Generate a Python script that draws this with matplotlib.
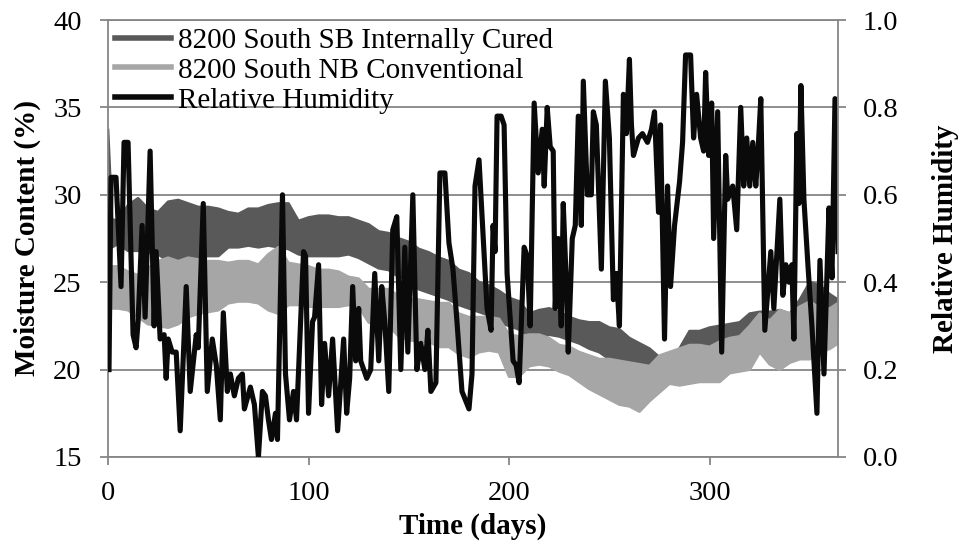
import matplotlib
matplotlib.use("Agg")
import matplotlib.pyplot as plt
from matplotlib.lines import Line2D
import numpy as np

plt.rcParams['font.family'] = ['Liberation Serif', 'DejaVu Serif']

# ---- data ----
mc_days = [0, 2, 5, 10, 15, 20, 25, 30, 35, 40, 45, 50, 55, 60, 65, 70, 75, 80, 85, 90,
           95, 100, 105, 110, 115, 120, 125, 130, 135, 140, 145, 150, 155, 160, 165, 170,
           175, 180, 185, 190, 195, 200, 205, 210, 215, 220, 225, 230, 235, 240, 245, 250,
           255, 260, 265, 270, 275, 280, 285, 290, 295, 300, 305, 310, 315, 320, 325, 330,
           335, 340, 345, 350, 355, 360, 364]

sb_high = [33.7, 28.6, 28.5, 29.4, 29.8, 29.2, 29.0, 29.6, 29.7, 29.5, 29.3, 29.3, 29.2, 29.0,
           28.9, 29.2, 29.2, 29.4, 29.5, 29.5, 28.5, 28.7, 28.8, 28.8, 28.7, 28.7, 28.5, 28.3,
           27.9, 27.8, 27.5, 27.3, 26.9, 26.7, 26.4, 26.2, 25.7, 25.5, 25.0, 24.8, 24.5, 24.1,
           23.9, 23.2, 23.4, 23.5, 23.3, 23.0, 22.8, 22.7, 22.7, 22.4, 22.3, 21.8, 21.5, 21.2,
           20.7, 20.6, 21.2, 22.2, 22.2, 22.4, 22.5, 22.6, 22.7, 23.2, 23.3, 23.3, 23.4, 23.2,
           24.0, 25.0, 24.8, 24.3, 24.0]
sb_low = [27.5, 27.0, 27.2, 26.8, 26.8, 26.7, 26.6, 26.2, 25.9, 26.3, 26.4, 26.5, 26.5, 27.0,
          27.0, 27.1, 27.0, 27.1, 27.0, 26.9, 26.6, 26.5, 26.5, 26.5, 26.5, 26.6, 26.4, 26.1,
          25.8, 25.7, 25.3, 25.2, 24.6, 24.4, 24.2, 24.0, 23.7, 23.5, 23.3, 23.1, 22.7, 22.5,
          22.3, 21.9, 21.8, 22.0, 21.9, 21.7, 21.5, 21.2, 21.0, 20.6, 20.5, 20.3, 19.9, 19.6,
          19.4, 19.3, 19.5, 20.2, 20.3, 20.4, 20.7, 20.8, 20.9, 21.1, 21.4, 21.6, 21.8, 21.9,
          22.0, 22.3, 22.2, 22.2, 22.5]

nb_high = [25.9, 25.9, 25.9, 25.6, 25.4, 25.8, 26.2, 26.4, 26.2, 26.4, 26.3, 26.2, 26.2, 26.1,
           26.2, 26.2, 26.0, 26.6, 27.0, 26.1, 26.0, 25.9, 25.7, 25.7, 25.6, 25.3, 25.2, 24.6,
           24.6, 24.6, 24.2, 24.0, 24.0, 23.9, 23.8, 23.8, 23.2, 23.0, 23.0, 23.0, 22.9, 22.0,
           21.9, 22.0, 22.0, 21.8, 21.4, 21.3, 21.0, 20.8, 20.6, 20.6, 20.5, 20.4, 20.3, 20.2,
           20.8, 21.0, 21.2, 21.4, 21.4, 21.3, 21.6, 21.8, 21.9, 22.5, 23.2, 22.8, 23.4, 23.2,
           23.6, 23.9, 23.5, 23.5, 23.8]
nb_low = [23.5, 23.5, 23.5, 23.4, 23.0, 22.6, 22.5, 22.4, 22.6, 23.0, 23.2, 23.3, 23.4, 23.8,
          23.9, 23.9, 23.8, 23.4, 23.2, 23.7, 23.7, 23.6, 23.6, 23.6, 23.6, 23.7, 23.6, 22.7,
          22.5, 22.5, 21.9, 21.7, 21.6, 21.6, 21.3, 21.3, 20.9, 20.7, 21.0, 21.1, 21.0, 19.6,
          19.6, 20.2, 20.3, 20.2, 19.9, 19.7, 19.3, 18.9, 18.6, 18.3, 18.0, 17.9, 17.6, 18.2,
          18.7, 19.2, 19.1, 19.2, 19.3, 19.3, 19.3, 19.8, 19.9, 20.0, 21.0, 20.3, 20.0, 20.4,
          20.6, 20.6, 21.0, 21.2, 21.5]

rh_days = [0.5, 1.5, 4, 6.5, 8, 10, 12.5, 14, 15, 17, 18.5, 21, 23, 24, 26, 28, 29, 30, 32, 34,
           36, 39, 41, 44, 45, 47.5, 49.5, 52, 54, 56, 57.5, 59.5, 61, 63, 65, 67, 68, 71, 73,
           75, 77, 78.5, 80, 81.5, 83.5, 84.5, 87, 88.5, 90.5, 92.5, 94, 97.5, 98.5, 100, 102,
           103, 105, 106.5, 108, 110, 112, 114.5, 117.5, 119, 120.5, 122, 123.5, 125, 126, 129,
           131, 133, 135, 136.5, 138, 140, 142, 144, 146, 148, 149.5, 152, 154, 156, 158, 159.5,
           161, 163.5, 165.5, 168, 170, 172, 174, 176.5, 180, 181.5, 183, 185, 187, 189, 191,
           192, 193, 194, 196, 197.5, 199, 202, 203.5, 205, 207.5, 209, 210.5, 212.5, 214.5,
           216.5, 217.5, 219, 220.5, 222, 223, 224.5, 226, 227, 228.5, 229.5, 231.5, 233, 234.5,
           236, 237, 239, 241, 242, 243.5, 246, 248, 250, 252, 253.5, 255, 257, 258.5, 260, 261,
           262, 264.5, 266.5, 269, 271, 272.5, 274.5, 275.5, 277.5, 279, 280.5, 282.5, 285,
           286.5, 288, 290.5, 292, 293.5, 295.5, 297, 298, 299.5, 301, 302, 304, 306, 308, 309,
           311.5, 313.5, 315.5, 317, 318.5, 320, 321.5, 323, 324, 325.5, 327.5, 330.5, 332, 335,
           336.5, 338, 339.5, 341, 342, 343.5, 344.5, 345.5, 347, 349, 351, 353.5, 355, 357,
           359.5, 361, 362.5, 364]
rh_vals = [0.20, 0.64, 0.64, 0.39, 0.72, 0.72, 0.28, 0.25, 0.31, 0.53, 0.32, 0.70, 0.30, 0.47,
           0.27, 0.28, 0.18, 0.27, 0.24, 0.24, 0.06, 0.39, 0.15, 0.28, 0.25, 0.58, 0.15, 0.27,
           0.21, 0.085, 0.33, 0.15, 0.19, 0.14, 0.18, 0.19, 0.11, 0.16, 0.12, 0.0, 0.15, 0.14,
           0.085, 0.04, 0.10, 0.04, 0.60, 0.19, 0.085, 0.15, 0.085, 0.47, 0.46, 0.10, 0.31,
           0.32, 0.44, 0.12, 0.26, 0.14, 0.27, 0.06, 0.27, 0.10, 0.18, 0.39, 0.22, 0.34, 0.22,
           0.18, 0.20, 0.42, 0.22, 0.39, 0.31, 0.15, 0.52, 0.55, 0.20, 0.48, 0.24, 0.60, 0.20,
           0.26, 0.20, 0.29, 0.15, 0.17, 0.65, 0.65, 0.49, 0.43, 0.31, 0.15, 0.11, 0.19, 0.62,
           0.68, 0.51, 0.34, 0.29, 0.53, 0.47, 0.78, 0.78, 0.76, 0.42, 0.22, 0.21, 0.17, 0.48,
           0.46, 0.30, 0.81, 0.65, 0.75, 0.62, 0.80, 0.71, 0.70, 0.34, 0.50, 0.30, 0.58, 0.40,
           0.24, 0.50, 0.53, 0.78, 0.53, 0.86, 0.60, 0.60, 0.79, 0.76, 0.43, 0.86, 0.73, 0.36,
           0.42, 0.30, 0.83, 0.74, 0.91, 0.76, 0.69, 0.73, 0.74, 0.72, 0.75, 0.79, 0.56, 0.76,
           0.27, 0.62, 0.39, 0.53, 0.63, 0.72, 0.92, 0.92, 0.73, 0.83, 0.73, 0.70, 0.88, 0.69,
           0.81, 0.50, 0.79, 0.24, 0.69, 0.59, 0.62, 0.52, 0.80, 0.62, 0.73, 0.62, 0.72, 0.62,
           0.69, 0.82, 0.29, 0.47, 0.34, 0.59, 0.37, 0.44, 0.40, 0.44, 0.27, 0.74, 0.58, 0.85,
           0.59, 0.44, 0.30, 0.10, 0.45, 0.19, 0.57, 0.41, 0.82, 0.47]

labels = ["8200 South SB Internally Cured", "8200 South NB Conventional", "Relative Humidity"]
colors = ["#595959", "#a6a6a6", "#0a0a0a"]
x_ticks = [0, 100, 200, 300]
y_ticks = [15, 20, 25, 30, 35, 40]
rh_ticks = [0.0, 0.2, 0.4, 0.6, 0.8, 1.0]

grid_c = "#868686"

fig = plt.figure(figsize=(9.58, 5.44), dpi=100)
ax = fig.add_axes([108/958, 87/544, 730/958, 437/544])
ax2 = ax.twinx()

ax.fill_between(mc_days, sb_low, sb_high, color=colors[0], lw=0, zorder=2)
ax.plot(mc_days, sb_high, color=colors[0], lw=2, zorder=2)
ax.plot(mc_days, sb_low, color=colors[0], lw=2, zorder=2)
ax.fill_between(mc_days, nb_low, nb_high, color=colors[1], lw=0, zorder=3)
ax.plot(mc_days, nb_high, color=colors[1], lw=2, zorder=3)
ax.plot(mc_days, nb_low, color=colors[1], lw=2, zorder=3)
ax2.plot(rh_days, rh_vals, color=colors[2], lw=3.7, solid_joinstyle='round')

ax.set_xlim(0, 364)
ax.set_ylim(15, 40)
ax2.set_ylim(0, 1)
ax.set_xticks(x_ticks)
ax.set_yticks(y_ticks)
ax2.set_yticks(rh_ticks)
ax2.set_yticklabels([f"{v:.1f}" for v in rh_ticks])

ax.yaxis.grid(True, color=grid_c, lw=1.3, zorder=0)
ax.set_axisbelow(True)
for a in (ax, ax2):
    for s in a.spines.values():
        s.set_color(grid_c)
        s.set_linewidth(1.3)
ax2.spines['left'].set_visible(False)
ax2.spines['bottom'].set_visible(False)
ax2.spines['top'].set_visible(False)
ax.spines['right'].set_visible(False)

ax.tick_params(axis='y', direction='out', length=6, width=1.3, color=grid_c,
               labelsize=20.5, pad=13)
ax.tick_params(axis='x', direction='out', length=6, width=1.3, color=grid_c,
               labelsize=20.5, pad=11)
ax2.tick_params(axis='y', direction='out', length=6, width=1.3, color=grid_c,
                labelsize=20.5, pad=12)

ax.set_xlabel("Time (days)", fontsize=21, fontweight='bold', labelpad=5)
ax.set_ylabel("Moisture Content (%)", fontsize=21, fontweight='bold', labelpad=9)
ax2.set_ylabel("Relative Humidity", fontsize=21, fontweight='bold', labelpad=24)

handles = [Line2D([], [], color=c, lw=4) for c in colors]
leg = ax2.legend(handles, labels, loc='upper left', bbox_to_anchor=(0.0, 1.0),
                 frameon=False, fontsize=21, handlelength=1.9, handletextpad=0.25,
                 labelspacing=0.12, borderaxespad=0.15, borderpad=0.1)

fig.savefig("out.png", dpi=100)
